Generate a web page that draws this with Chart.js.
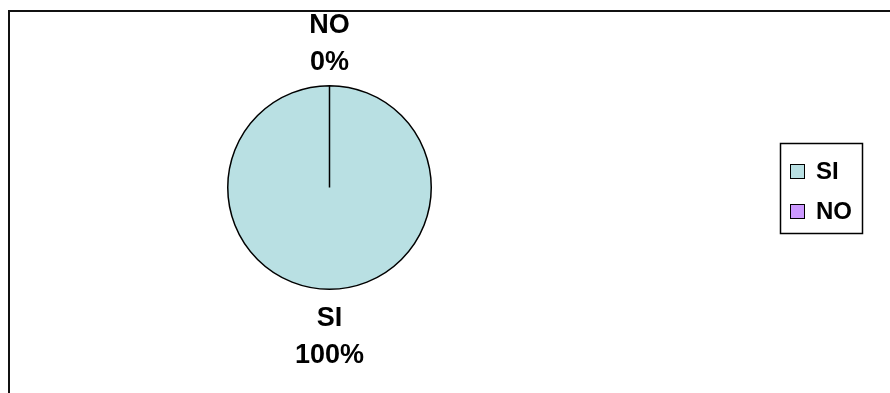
<!DOCTYPE html>
<html>
<head>
<meta charset="utf-8">
<script src="https://cdn.jsdelivr.net/npm/chart.js@4"></script>
<style>
    html, body { margin: 0; padding: 0; background: #fff; }
    #wrap { width: 890px; height: 393px; }
</style>
</head>
<body>
<div id="wrap"><canvas id="myChart"></canvas></div>
<script>
// respuestas
const labels = ['SI', 'NO'];
const values = [100, 0];
const colors = ['#b9e0e3', '#cc99ff'];

const FONT = '"Liberation Sans", Arial, sans-serif';

// marco, etiquetas de porcentaje y leyenda
const extras = {
    id: 'extras',
    afterDraw(chart) {
        const ctx = chart.ctx;
        const total = values.reduce((a, b) => a + b, 0);
        ctx.save();

        // marco
        ctx.strokeStyle = '#111';
        ctx.lineWidth = 2;
        ctx.beginPath();
        ctx.moveTo(9, 393);
        ctx.lineTo(9, 11);
        ctx.lineTo(890, 11);
        ctx.stroke();

        // etiquetas fuera de cada sector
        ctx.fillStyle = '#000';
        ctx.font = 'bold 27px ' + FONT;
        ctx.textAlign = 'center';
        ctx.textBaseline = 'middle';
        const arcs = chart.getDatasetMeta(0).data;
        arcs.forEach(function (arc, i) {
            const p = arc.getProps(['x', 'y', 'startAngle', 'endAngle', 'outerRadius']);
            const mid = (p.startAngle + p.endAngle) / 2;
            const pct = Math.round(values[i] / total * 100) + '%';
            const dx = Math.cos(mid), dy = Math.sin(mid);
            // un poco más separadas por debajo de la torta
            const centre = p.outerRadius + 45 + 3 * dy;
            const cx = p.x + dx * centre, cy = p.y + dy * centre;
            ctx.fillText(labels[i], cx, cy - 18.5);
            ctx.fillText(pct, cx, cy + 18.5);
        });

        // leyenda
        ctx.strokeStyle = '#000';
        ctx.lineWidth = 1.5;
        ctx.strokeRect(780.5, 143.5, 82, 90);
        ctx.font = 'bold 24px ' + FONT;
        ctx.textAlign = 'left';
        const rows = [171.5, 211.5];
        labels.forEach(function (lab, i) {
            ctx.fillStyle = colors[i];
            ctx.fillRect(790.5, rows[i] - 7, 14, 14);
            ctx.lineWidth = 1;
            ctx.strokeRect(790.5, rows[i] - 7, 14, 14);
            ctx.fillStyle = '#000';
            ctx.fillText(lab, 816, rows[i] + 1);
        });
        ctx.restore();
    }
};

const myChart = new Chart(document.getElementById('myChart').getContext('2d'), {
    type: 'pie',
    data: {
        labels: labels,
        datasets: [{
            data: values,
            backgroundColor: colors,
            borderColor: '#000',
            borderWidth: 1.5
        }]
    },
    options: {
        responsive: true,
        maintainAspectRatio: false,
        animation: false,
        layout: {
            padding: { left: 227, right: 458, top: 84, bottom: 102 }
        },
        plugins: {
            legend: { display: false },
            tooltip: { enabled: false }
        }
    },
    plugins: [extras]
});
</script>
</body>
</html>
